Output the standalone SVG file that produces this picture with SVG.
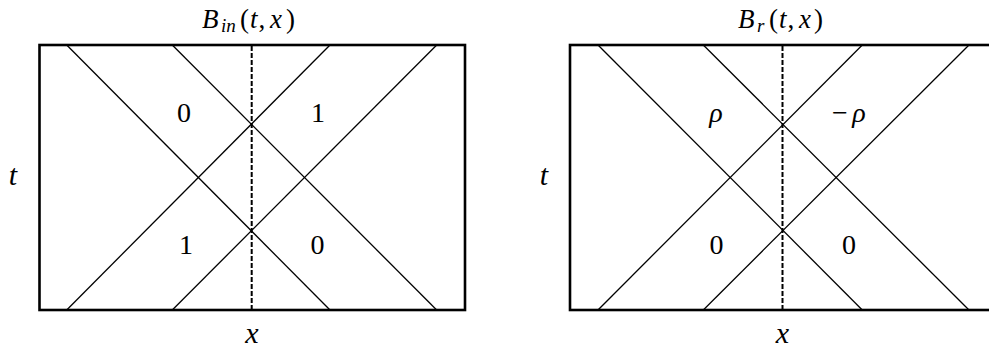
<svg xmlns="http://www.w3.org/2000/svg" width="989" height="350" viewBox="0 0 989 350">
<style>
.frame{fill:none;stroke:#000;stroke-width:2.6}
.diag{stroke:#000;stroke-width:1.3;fill:none}
.dash{stroke:#000;stroke-width:2;stroke-dasharray:5 2;fill:none}
text{font-family:"Liberation Serif","DejaVu Serif",serif;fill:#000}
.it{font-style:italic}
.num{font-size:28px;text-anchor:middle}
.lab{font-size:30px;font-style:italic;text-anchor:middle}
.ttl{font-size:27px}
.sub{font-size:19px;font-style:italic}
</style>
<rect width="989" height="350" fill="#fff"/>
<g id="panel-in">
  <rect class="frame" x="39.5" y="45" width="425.5" height="265"/>
  <g id="characteristics-in">
    <line class="diag" x1="66.7" y1="45" x2="330" y2="310"/>
    <line class="diag" x1="172.3" y1="45" x2="436.7" y2="310"/>
    <line class="diag" x1="330" y1="45" x2="66.7" y2="310"/>
    <line class="diag" x1="436.7" y1="45" x2="172.3" y2="310"/>
    <line class="dash" x1="251.7" y1="46" x2="251.7" y2="309"/>
  </g>
  <text class="ttl" y="28"><tspan class="it" x="202">B</tspan><tspan class="sub" x="221" y="32">in</tspan><tspan x="240" y="28">(</tspan><tspan class="it" x="250">t</tspan><tspan x="258.5">,</tspan><tspan class="it" x="270">x</tspan><tspan x="286">)</tspan></text>
  <text class="num" x="184" y="122">0</text>
  <text class="num" x="318" y="122">1</text>
  <text class="num" x="186" y="254">1</text>
  <text class="num" x="317.5" y="254">0</text>
  <text class="lab" x="13" y="185">t</text>
  <text class="lab" x="252" y="343">x</text>
</g>
<g id="panel-r">
  <rect class="frame" x="570" y="45" width="430" height="265"/>
  <g id="characteristics-r">
    <line class="diag" x1="598" y1="45" x2="862.3" y2="310"/>
    <line class="diag" x1="703.3" y1="45" x2="969" y2="310"/>
    <line class="diag" x1="862.3" y1="45" x2="598" y2="310"/>
    <line class="diag" x1="969" y1="45" x2="703.3" y2="310"/>
    <line class="dash" x1="782.5" y1="46" x2="782.5" y2="309"/>
  </g>
  <text class="ttl" y="28"><tspan class="it" x="738">B</tspan><tspan class="sub" x="757" y="32">r</tspan><tspan x="769" y="28">(</tspan><tspan class="it" x="779">t</tspan><tspan x="787.5">,</tspan><tspan class="it" x="799">x</tspan><tspan x="814">)</tspan></text>
  <text class="num it" x="716" y="122">ρ</text>
  <text class="num" y="122"><tspan x="840">−</tspan><tspan class="it" x="859">ρ</tspan></text>
  <text class="num" x="716.5" y="254">0</text>
  <text class="num" x="849" y="254">0</text>
  <text class="lab" x="544" y="185">t</text>
  <text class="lab" x="782.5" y="343">x</text>
</g>
</svg>
